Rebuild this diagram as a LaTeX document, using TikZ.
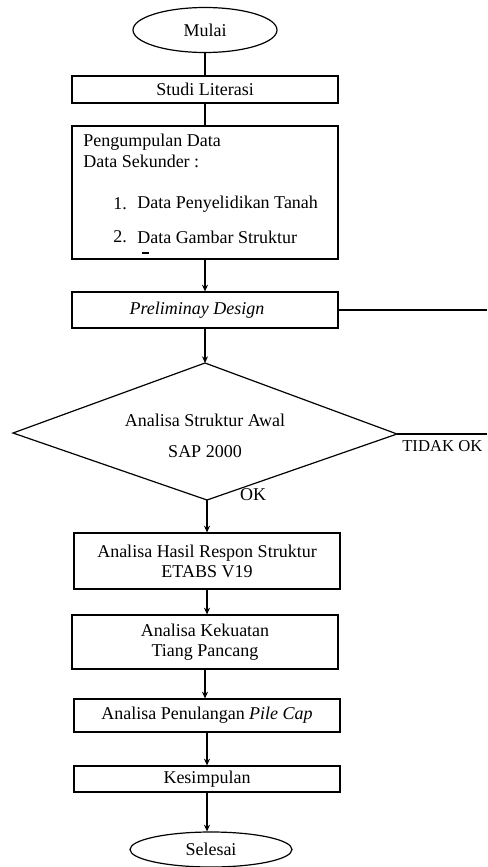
\documentclass[tikz,border=0pt]{standalone}
\usepackage{fontspec}
\setmainfont{Liberation Serif}
\usetikzlibrary{arrows.meta,shapes.geometric}
\begin{document}
\begin{tikzpicture}[x=0.75pt,y=-0.75pt,
  font=\fontsize{13.5pt}{15pt}\selectfont,
  box/.style={draw,line width=0.9pt,minimum width=199.5pt,inner sep=0pt,align=center},
  term/.style={draw,ellipse,line width=0.9pt,inner sep=0pt},
  link/.style={line width=0.9pt},
  arr/.style={line width=0.9pt,-{Stealth[length=5pt,width=4.5pt]}},
  lbl/.style={inner sep=0pt}]
\useasboundingbox (0,0) rectangle (487,867);

\node[term,minimum width=108pt,minimum height=33.75pt] (mulai) at (205,30) {Mulai};
\node[box,minimum height=20.25pt] (studi) at (205,89.5) {Studi Literasi};
\node[box,minimum height=99.75pt] (kumpul) at (205,192.5) {};
\node[lbl,anchor=west] (t1) at (83,142) {Pengumpulan Data};
\node[lbl,anchor=west] (t2) at (83,161) {Data Sekunder :};
\node[lbl,anchor=west] (n1) at (113,204) {1.};
\node[lbl,anchor=west] (d1) at (137,204) {Data Penyelidikan Tanah};
\node[lbl,anchor=west] (n2) at (113,237) {2.};
\node[lbl,anchor=west] (d2) at (137,237) {Data Gambar Struktur};
\coordinate (u1) at (142,253);
\coordinate (u2) at (149,253);
\draw[line width=0.9pt] (u1) -- (u2);

\node[box,minimum height=27pt] (prelim) at (205,310) {\hspace*{-12pt}\textit{Preliminay Design}};

\coordinate (dt) at (205,363);
\coordinate (dr) at (397,434);
\coordinate (db) at (207,500);
\coordinate (dl) at (13,433);
\draw[link] (dt) -- (dr) -- (db) -- (dl) -- cycle;
\node[lbl] (da) at (205,420) {Analisa Struktur Awal};
\node[lbl] (ds) at (205,452) {SAP 2000};
\node[lbl,anchor=west,font=\fontsize{12.5pt}{14pt}\selectfont] (tidak) at (402,446) {TIDAK OK};
\node[lbl] (ok) at (253,495) {OK};

\node[box,minimum height=42pt] (hasil) at (207,561) {Analisa Hasil Respon Struktur\\ETABS V19};
\node[box,minimum height=40.5pt] (kuat) at (205,642) {Analisa Kekuatan\\Tiang Pancang};
\node[box,minimum height=24.75pt] (tulang) at (207,715.5) {Analisa Penulangan \textit{Pile Cap}};
\node[box,minimum height=19.5pt] (simpul) at (207,779) {Kesimpulan};
\node[term,minimum width=121.5pt,minimum height=26.25pt] (selesai) at (211,849.5) {Selesai};

\coordinate (e1) at (487,310);
\coordinate (e2) at (487,434);

\draw[link] (mulai.south) -- (mulai.south |- studi.north);
\draw[link] (studi.south) -- (studi.south |- kumpul.north);
\draw[arr] (kumpul.south) -- (prelim.north);
\draw[arr] (prelim.south) -- (dt);
\draw[link] (prelim.east) -- (e1);
\draw[link] (dr) -- (e2);
\draw[arr] (db) -- (db |- hasil.north);
\draw[arr] (hasil.south) -- (hasil.south |- kuat.north);
\draw[arr] (kuat.south) -- (kuat.south |- tulang.north);
\draw[arr] (tulang.south) -- (simpul.north);
\draw[arr] (simpul.south) -- (simpul.south |- selesai.north);
\end{tikzpicture}
\end{document}
